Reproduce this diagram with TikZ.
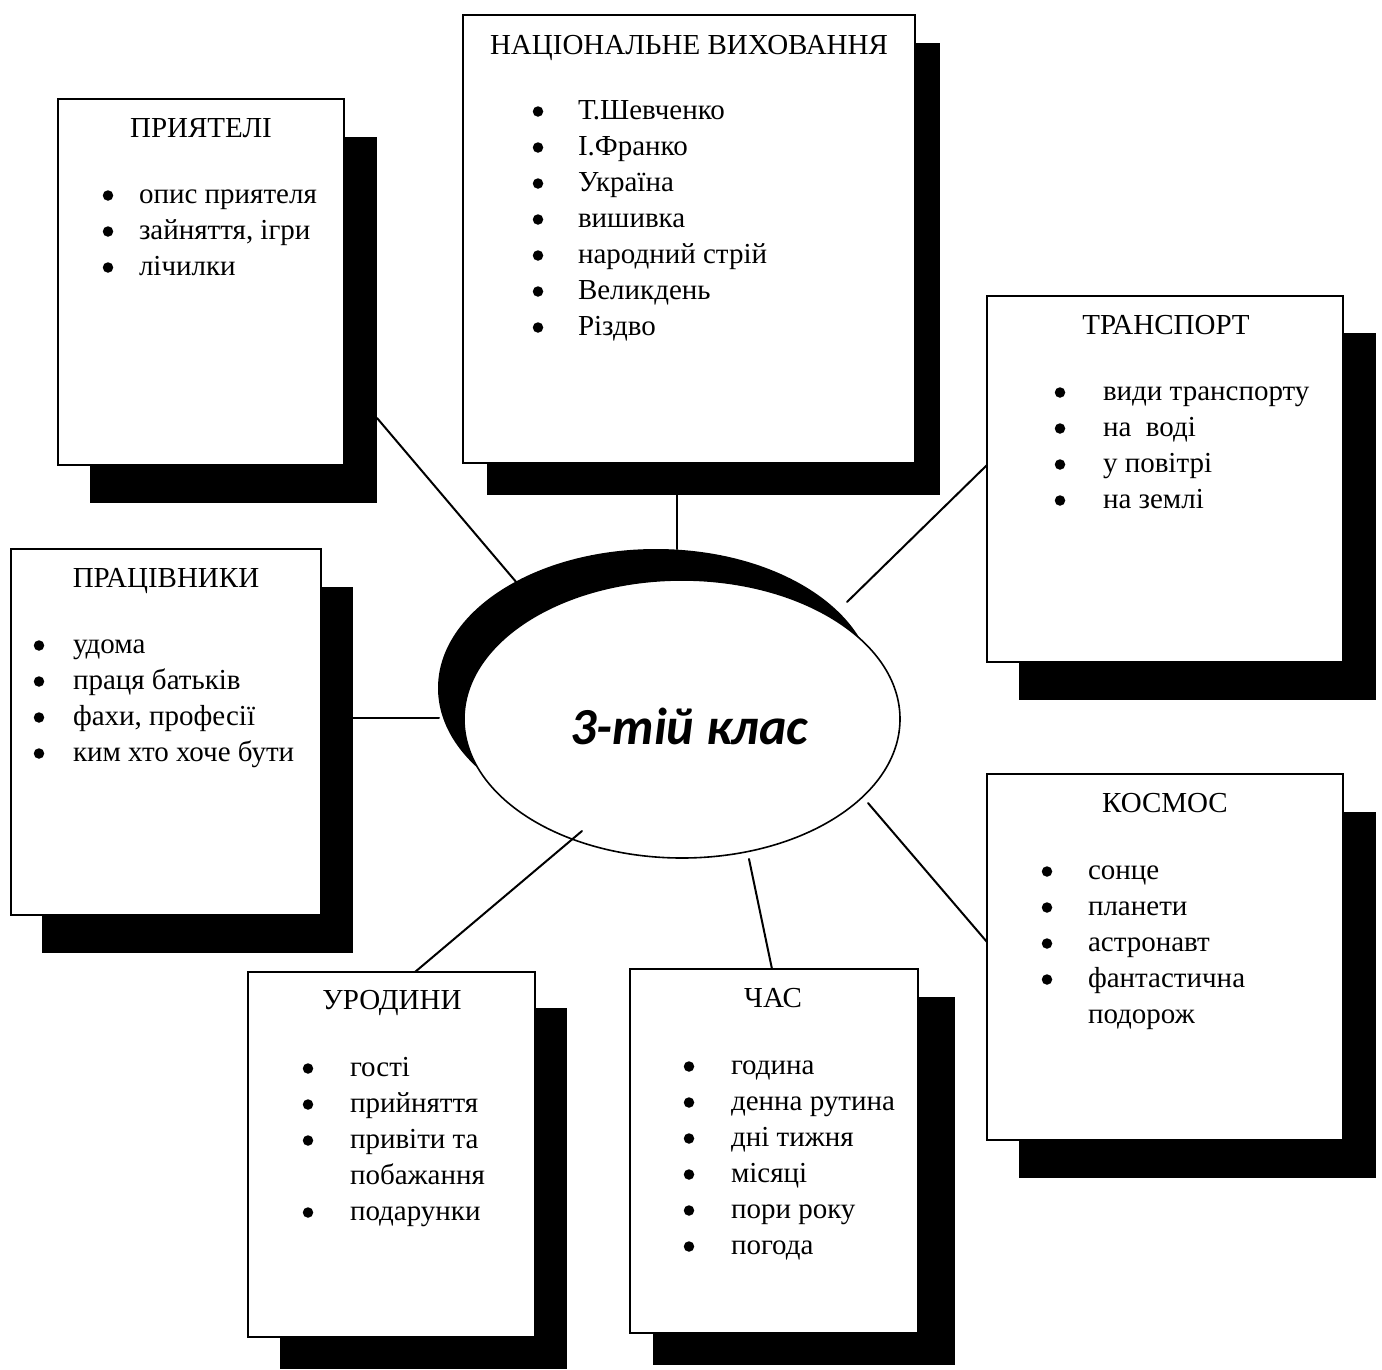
\documentclass[tikz,border=0pt]{standalone}
\usepackage{fontspec}
\setmainfont{Liberation Serif}
\newfontfamily\calibfont{Carlito}
\usetikzlibrary{shapes.geometric}
\tikzset{
  boxsty/.style={draw=black, line width=1.3pt, fill=white, rectangle, inner sep=0pt, outer sep=0pt},
  shadowsty/.style={fill=black, draw=none, rectangle, inner sep=0pt, outer sep=0pt},
  txt/.style={inner sep=0pt, outer sep=0pt, font=\fontsize{29}{36}\selectfont},
  ttl/.style={txt, anchor=base},
  dotsty/.style={circle, fill=black, draw=none, inner sep=0pt, minimum size=10.5pt},
  conn/.style={line width=2pt, line cap=round},
  ellsty/.style={ellipse, minimum width=436pt, minimum height=278pt, inner sep=0pt, outer sep=0pt},
}
% name, style, x1, y1, x2, y2
\newcommand\mkbox[6]{%
  \node[#2, minimum width={(#5-#3)*1pt}, minimum height={(#6-#4)*1pt}] (#1) at ({(#3+#5)/2},{(#4+#6)/2}) {};}
% prefix, bullet centre x, first baseline, text x, items (flag/text)
\newcommand\blist[5]{%
  \foreach \b/\t [count=\i from 0] in {#5}{%
    \ifnum\b=1 \node[dotsty] (#1b\i) at (#2,{#3+36*\i-7.5}) {};\fi
    \node[txt, anchor=base west] (#1\i) at (#4,{#3+36*\i}) {\t};}}
\begin{document}
\begin{tikzpicture}[x=1pt, y=-1pt]
  \fill[white] (0,0) rectangle (1382,1369);
  \useasboundingbox (0,0) rectangle (1382,1369);

  % shadows
  \mkbox{pryatsh}{shadowsty}{90}{137}{377}{503}
  \mkbox{natssh}{shadowsty}{487}{43}{940}{495}
  \mkbox{transsh}{shadowsty}{1019}{333}{1376}{700}
  \mkbox{pracsh}{shadowsty}{42}{587}{353}{953}
  \mkbox{kosmsh}{shadowsty}{1019}{812}{1376}{1178}
  \mkbox{urodsh}{shadowsty}{280}{1008}{567}{1369}
  \mkbox{chassh}{shadowsty}{653}{997}{955}{1365}

  % boxes
  \mkbox{pryat}{boxsty}{58}{99}{344}{465}
  \mkbox{nats}{boxsty}{463}{15}{915}{463}
  \mkbox{trans}{boxsty}{987}{296}{1343}{662}
  \mkbox{prac}{boxsty}{11}{549}{321}{915}
  \mkbox{kosm}{boxsty}{987}{774}{1343}{1140}
  \mkbox{urod}{boxsty}{248}{972}{535}{1337}
  \mkbox{chas}{boxsty}{630}{969}{918}{1333}

  % titles
  \node[ttl] (pryatT) at (201,137) {ПРИЯТЕЛІ};
  \node[ttl] (natsT) at (689,54) {НАЦІОНАЛЬНЕ ВИХОВАННЯ};
  \node[ttl] (transT) at (1166,334) {ТРАНСПОРТ};
  \node[ttl] (pracT) at (166,587) {ПРАЦІВНИКИ};
  \node[ttl] (kosmT) at (1165,812) {КОСМОС};
  \node[ttl] (urodT) at (392,1009) {УРОДИНИ};
  \node[ttl] (chasT) at (773,1007) {ЧАС};

  % lists
  \blist{pryatL}{108}{203}{139}{1/опис приятеля, 1/зайняття{,} ігри, 1/лічилки}
  \blist{natsL}{538}{119}{578}{1/Т.Шевченко, 1/І.Франко, 1/Україна, 1/вишивка, 1/народний стрій, 1/Великдень, 1/Різдво}
  \blist{transL}{1060}{400}{1103}{1/види транспорту, 1/на~~воді, 1/у повітрі, 1/на землі}
  \blist{pracL}{39}{653}{73}{1/удома, 1/праця батьків, 1/фахи{,} професії, 1/ким хто хоче бути}
  \blist{kosmL}{1047}{879}{1088}{1/сонце, 1/планети, 1/астронавт, 1/фантастична, 0/подорож}
  \blist{urodL}{308}{1076}{350}{1/гості, 1/прийняття, 1/привіти та, 0/побажання, 1/подарунки}
  \blist{chasL}{689}{1074}{731}{1/година, 1/денна рутина, 1/дні тижня, 1/місяці, 1/пори року, 1/погода}

  % central ellipse
  \node[ellsty, fill=black] (ellsh) at (656,688) {};
  \node[ellsty, draw=black, line width=1.6pt, fill=white] (ell) at (682,719) {};
  \node[inner sep=0pt, anchor=base, font=\calibfont\bfseries\itshape\fontsize{52}{60}\selectfont] (center) at (689,744) {3-тій клас};

  % connector ends on the ellipse
  \coordinate (e1) at (517,583);
  \coordinate (e2) at (677,549);
  \coordinate (e3) at (847,602);
  \coordinate (e4) at (439,718);
  \coordinate (e5) at (868,803);
  \coordinate (e6) at (582,831);
  \coordinate (e7) at (749,859);

  % connectors
  \draw[conn] ([yshift=-98pt]pryatsh.east) -- (e1);
  \draw[conn] ([xshift=-12pt]nats.south) -- (e2);
  \draw[conn] ([yshift=14pt]trans.west) -- (e3);
  \draw[conn] ([yshift=52pt]pracsh.east) -- (e4);
  \draw[conn] ([yshift=15pt]kosm.west) -- (e5);
  \draw[conn] ([xshift=23.5pt]urod.north) -- (e6);
  \draw[conn] ([xshift=-2pt]chas.north) -- (e7);
\end{tikzpicture}
\end{document}
